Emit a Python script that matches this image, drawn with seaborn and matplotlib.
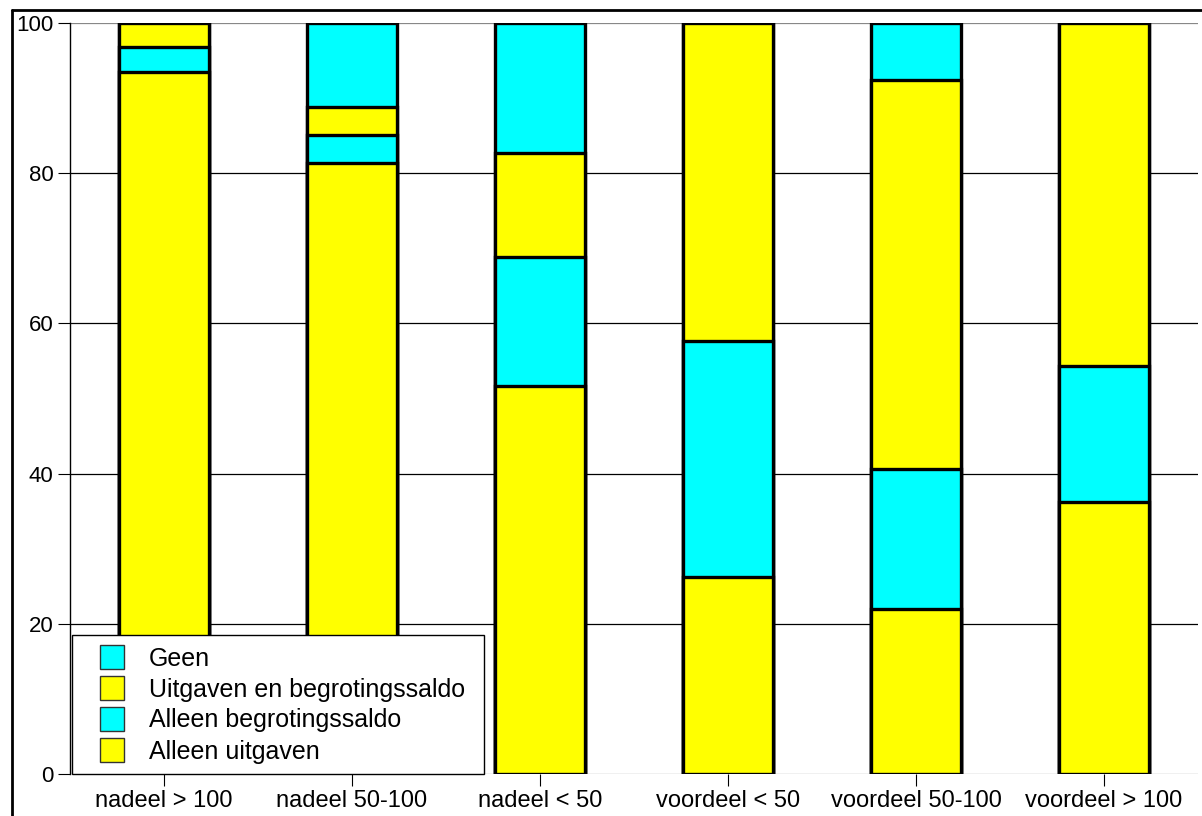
import numpy as np
import pandas as pd
import matplotlib
matplotlib.use("Agg")
import matplotlib.pyplot as plt
from matplotlib.patches import Patch, Rectangle
from matplotlib.legend_handler import HandlerPatch
from matplotlib.lines import Line2D
import seaborn as sns

# categories and the four stacked layers (percentages, bottom to top)
categories = ["nadeel > 100", "nadeel 50-100", "nadeel < 50",
              "voordeel < 50", "voordeel 50-100", "voordeel > 100"]
alleen_uitgaven = [93.5, 81.4, 51.7, 26.2, 22.0, 36.2]
alleen_saldo = [3.3, 3.7, 17.1, 31.5, 18.6, 18.1]
uitgaven_en_saldo = [3.2, 3.7, 13.9, 42.3, 51.8, 45.7]
geen = [0.0, 11.2, 17.3, 0.0, 7.6, 0.0]

layer_names = ["Alleen uitgaven", "Alleen begrotingssaldo",
               "Uitgaven en begrotingssaldo", "Geen"]
layer_colors = ["#ffff00", "#00ffff", "#ffff00", "#00ffff"]

df = pd.DataFrame({"cat": categories,
                   "Alleen uitgaven": alleen_uitgaven,
                   "Alleen begrotingssaldo": alleen_saldo,
                   "Uitgaven en begrotingssaldo": uitgaven_en_saldo,
                   "Geen": geen})
cum = df[layer_names].cumsum(axis=1)

sns.set_theme(style="white")
plt.rcParams["font.family"] = ["Liberation Sans", "DejaVu Sans"]
plt.rcParams["text.color"] = "black"

fig = plt.figure(figsize=(12.02, 8.16), dpi=100)
ax = fig.add_axes([70 / 1202, 42 / 816, 1128 / 1202, 751 / 816])

# stacked look: draw cumulative totals, tallest first
for name, col in reversed(list(zip(layer_names, layer_colors))):
    sns.barplot(x=df["cat"], y=cum[name], color=col, saturation=1,
                width=0.48, edgecolor="black", linewidth=2.4, ax=ax, zorder=2)

ax.set_xlim(-0.5, 5.5)
ax.set_ylim(0, 100)
ax.set_yticks([0, 20, 40, 60, 80, 100])
ax.set_xlabel("")
ax.set_ylabel("")

ax.grid(axis="y", color="black", linewidth=0.9)
ax.set_axisbelow(True)
glines = ax.get_ygridlines()
glines[0].set_color("#888888")
glines[-1].set_color("#888888")

for s in ["top", "right", "bottom"]:
    ax.spines[s].set_visible(False)
ax.spines["left"].set_color("black")
ax.spines["left"].set_linewidth(1)

ax.tick_params(axis="both", direction="out", length=8.5, width=0.8,
               color="black", labelcolor="black")
ax.tick_params(axis="y", pad=3.5, labelsize=16)
ax.tick_params(axis="x", pad=3, labelsize=17)
ax.tick_params(left=True, bottom=True)


# square legend keys, shifted right inside a wider handle box
def square_key(legend, orig_handle, xdescent, ydescent, width, height, fontsize):
    return Rectangle((-xdescent + width - height, -ydescent), height, height)


handles = [Patch(facecolor=c, edgecolor="#333333", linewidth=1)
           for c in reversed(layer_colors)]
leg = ax.legend(handles, list(reversed(layer_names)), loc="lower left",
                bbox_to_anchor=(0.002, 0.0, 0.365, 0.2), mode="expand",
                borderaxespad=0, fontsize=18, handlelength=1.64,
                handleheight=1.1, handletextpad=1.0, labelspacing=0.22,
                borderpad=0.42, fancybox=False, framealpha=1,
                edgecolor="black",
                handler_map={Patch: HandlerPatch(patch_func=square_key)})
leg.get_frame().set_linewidth(1)
leg.set_zorder(5)

# outer frame lines of the original figure
fig.add_artist(Line2D([12 / 1202, 1.0], [1 - 10 / 816, 1 - 10 / 816],
                      color="black", linewidth=2))
fig.add_artist(Line2D([12 / 1202, 12 / 1202], [0, 1 - 10 / 816],
                      color="black", linewidth=2))

fig.savefig("out.png", dpi=100)
